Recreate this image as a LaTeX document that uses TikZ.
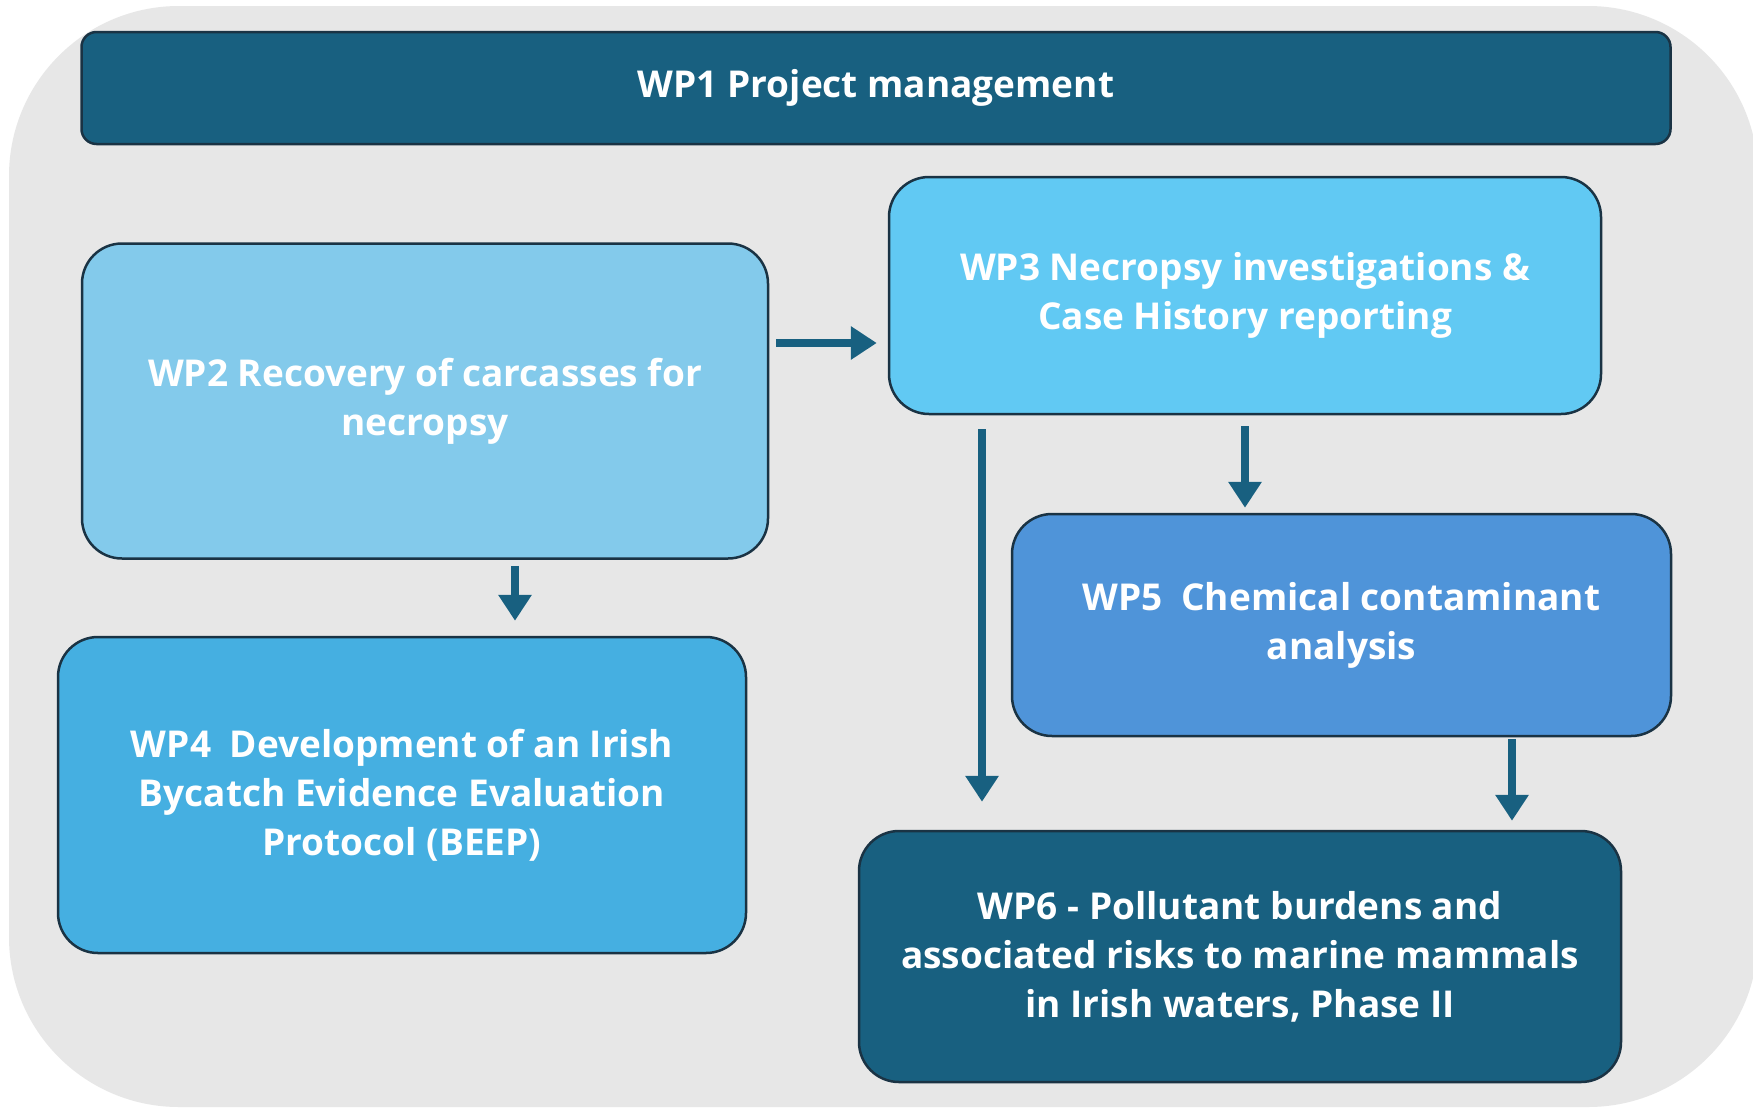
\documentclass[tikz,border=0pt]{standalone}
\usepackage{fontspec}
\setmainfont{Open Sans}
\usetikzlibrary{arrows.meta}
\definecolor{bggray}{RGB}{231,231,231}
\definecolor{darkteal}{RGB}{24,96,128}
\definecolor{paleblue}{RGB}{131,202,235}
\definecolor{skyblue}{RGB}{97,201,243}
\definecolor{midblue}{RGB}{69,175,225}
\definecolor{royalblue}{RGB}{79,148,217}
\definecolor{edgeline}{RGB}{26,51,68}
\tikzset{
  wpbox/.style={draw=edgeline, line width=2.5pt, rounded corners=40pt,
    text=white, align=center, inner sep=0pt,
    font=\fontsize{37}{49}\selectfont\bfseries},
  flow/.style={draw=darkteal, line width=8pt,
    -{Triangle[width=32pt,length=26pt]}}
}
\begin{document}
\begin{tikzpicture}[x=1pt,y=-1pt]
\useasboundingbox (0,0) rectangle (1753,1111);
\fill[white] (0,0) rectangle (1753,1111);
\begin{scope}
  \clip (0,0) rectangle (1753,1111);
  \fill[bggray, rounded corners=170pt] (9,6) rectangle (1758,1107);
\end{scope}

% work packages
\node[wpbox, fill=darkteal, rounded corners=15pt,
      minimum width=1589pt, minimum height=112pt] (wp1) at (876,88)
  {WP1 Project management};
\node[wpbox, fill=paleblue, minimum width=686pt, minimum height=315pt]
  (wp2) at (425,401) {WP2 Recovery of carcasses for\\necropsy};
\node[wpbox, fill=skyblue, minimum width=712pt, minimum height=237pt]
  (wp3) at (1245,295.5) {WP3 Necropsy investigations \&\\Case History reporting};
\node[wpbox, fill=midblue, minimum width=688pt, minimum height=316pt]
  (wp4) at (402,795) {WP4\enspace Development of an Irish\\Bycatch Evidence Evaluation\\Protocol (BEEP)};
\node[wpbox, fill=royalblue, minimum width=659pt, minimum height=222pt]
  (wp5) at (1341.5,625) {WP5\enspace Chemical contaminant\\analysis};
\node[wpbox, fill=darkteal, minimum width=762pt, minimum height=251pt]
  (wp6) at (1240,956.5) {WP6 - Pollutant burdens and\\associated risks to marine mammals\\in Irish waters, Phase II};

% flow between work packages
\coordinate (row23) at (0,343);
\coordinate (col24) at (515,0);
\coordinate (col36) at (982,0);
\coordinate (col56) at (1512,0);
\draw[flow, shorten <=7pt, shorten >=11pt] (wp2.east |- row23) -- (wp3.west |- row23);
\draw[flow, shorten <=6pt, shorten >=15pt] (wp2.south -| col24) -- (wp4.north -| col24);
\draw[flow, shorten <=11pt, shorten >=5pt] (wp3.south) -- (wp5.north -| wp3.south);
\draw[flow, shorten <=14pt, shorten >=28pt] (wp3.south -| col36) -- (wp6.north -| col36);
\draw[flow, shorten <=2pt, shorten >=9pt] (wp5.south -| col56) -- (wp6.north -| col56);
\end{tikzpicture}
\end{document}
